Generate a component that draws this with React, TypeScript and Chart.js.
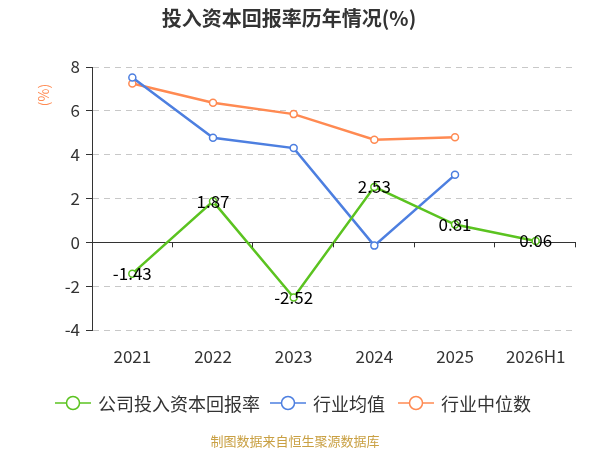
import { useEffect, useRef } from "react";
import { Chart, Plugin, registerables } from "chart.js";

Chart.register(...registerables);

const categories = ["2021", "2022", "2023", "2024", "2025", "2026H1"];
const companyRoic = [-1.43, 1.87, -2.52, 2.53, 0.81, 0.06];
const industryAvg = [7.52, 4.77, 4.3, -0.15, 3.08, null];
const industryMedian = [7.25, 6.37, 5.85, 4.68, 4.8, null];
const seriesNames = ["公司投入资本回报率", "行业均值", "行业中位数"];
const seriesColors = ["#5bc320", "#4d7fe0", "#ff8a52"];

const FONT = "'Noto Sans CJK SC', 'Noto Sans', sans-serif";

// labels on the company line, drawn centred on each point
const valueLabels: Plugin<"line"> = {
  id: "valueLabels",
  afterDatasetsDraw(chart) {
    const { ctx } = chart;
    const meta = chart.getDatasetMeta(0);
    ctx.save();
    ctx.font = `17px ${FONT}`;
    ctx.fillStyle = "#000";
    ctx.textAlign = "center";
    ctx.textBaseline = "middle";
    meta.data.forEach((pt, i) => {
      ctx.fillText(companyRoic[i].toFixed(2), pt.x, pt.y);
    });
    ctx.restore();
  },
};

// title, unit, zero-line ticks, legend and source note
const decorations: Plugin<"line"> = {
  id: "decorations",
  afterDraw(chart) {
    const { ctx, chartArea } = chart;
    const x = chart.scales.x;
    const y = chart.scales.y;
    ctx.save();

    ctx.fillStyle = "#333";
    ctx.font = `bold 20px ${FONT}`;
    ctx.textAlign = "center";
    ctx.textBaseline = "middle";
    ctx.fillText("投入资本回报率历年情况(%)", 289, 18);

    ctx.save();
    ctx.translate(44, 95);
    ctx.rotate(-Math.PI / 2);
    ctx.fillStyle = "#ff8a52";
    ctx.font = `14px ${FONT}`;
    ctx.fillText("(%)", 0, 0);
    ctx.restore();

    // tick marks under the zero line at category boundaries
    const zeroY = y.getPixelForValue(0);
    const step = (chartArea.right - chartArea.left) / categories.length;
    ctx.strokeStyle = "#333";
    ctx.lineWidth = 1;
    ctx.beginPath();
    for (let i = 1; i <= categories.length; i++) {
      const tx = Math.round(x.left + i * step) - 0.5;
      ctx.moveTo(tx, zeroY);
      ctx.lineTo(tx, zeroY + 5);
    }
    ctx.stroke();

    // legend
    const legendX = [55, 270, 398];
    ctx.font = `18px ${FONT}`;
    ctx.textAlign = "left";
    seriesNames.forEach((name, i) => {
      const lx = legendX[i];
      const ly = 403;
      ctx.strokeStyle = seriesColors[i];
      ctx.lineWidth = 1.5;
      ctx.beginPath();
      ctx.moveTo(lx, ly);
      ctx.lineTo(lx + 36, ly);
      ctx.stroke();
      ctx.beginPath();
      ctx.arc(lx + 18, ly, 6.5, 0, Math.PI * 2);
      ctx.fillStyle = "#fff";
      ctx.fill();
      ctx.stroke();
      ctx.fillStyle = "#333";
      ctx.fillText(name, lx + 43, ly + 1);
    });

    ctx.fillStyle = "#c9a043";
    ctx.font = `13px ${FONT}`;
    ctx.textAlign = "center";
    ctx.fillText("制图数据来自恒生聚源数据库", 295, 441);

    ctx.restore();
  },
};

export default function App() {
  const canvasRef = useRef<HTMLCanvasElement>(null);
  const chartRef = useRef<Chart<"line"> | null>(null);

  useEffect(() => {
    if (!canvasRef.current) return;
    if (chartRef.current) chartRef.current.destroy();

    const makeSet = (i: number, data: (number | null)[]) => ({
      label: seriesNames[i],
      data,
      borderColor: seriesColors[i],
      backgroundColor: "#fff",
      borderWidth: 2.5,
      pointRadius: 3.5,
      pointBorderWidth: 1.5,
      pointBackgroundColor: "#fff",
      pointBorderColor: seriesColors[i],
      tension: 0,
      spanGaps: false,
    });

    chartRef.current = new Chart(canvasRef.current, {
      type: "line",
      data: {
        labels: categories,
        datasets: [
          makeSet(0, companyRoic),
          makeSet(1, industryAvg),
          makeSet(2, industryMedian),
        ],
      },
      options: {
        animation: false,
        responsive: false,
        devicePixelRatio: 1,
        layout: { padding: { top: 67, right: 24, left: 0, bottom: 0 } },
        plugins: {
          legend: { display: false },
          title: { display: false },
          tooltip: { enabled: false },
        },
        scales: {
          x: {
            offset: true,
            grid: { display: false },
            border: { display: false },
            ticks: {
              color: "#333",
              font: { size: 17, family: FONT },
              padding: 8,
              maxRotation: 0,
            },
            afterFit(scale) {
              scale.height = 120;
            },
          },
          y: {
            min: -4,
            max: 8,
            ticks: {
              stepSize: 2,
              color: "#333",
              font: { size: 17, family: FONT },
              padding: 6,
            },
            grid: {
              color: (c) => (c.tick && c.tick.value === 0 ? "#333" : "#c8c8c8"),
              tickColor: "#333",
              tickLength: 6,
              tickBorderDash: [],
            },
            border: {
              display: true,
              color: "#333",
              dash: (c) => (c.tick && c.tick.value === 0 ? [] : [6, 5]),
            },
            afterFit(scale) {
              scale.width = 92;
            },
          },
        },
      },
      plugins: [valueLabels, decorations],
    });

    return () => {
      if (chartRef.current) {
        chartRef.current.destroy();
        chartRef.current = null;
      }
    };
  }, []);

  return (
    <div style={{ position: "fixed", left: 0, top: 0, width: 600, height: 450, background: "#fff" }}>
      <canvas ref={canvasRef} width={600} height={450} />
    </div>
  );
}
